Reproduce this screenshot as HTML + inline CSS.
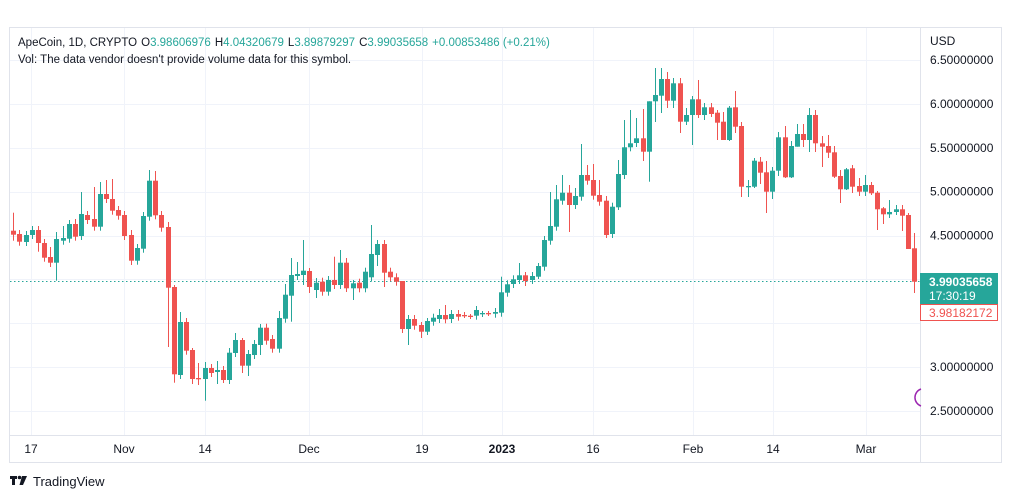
<!DOCTYPE html>
<html><head><meta charset="utf-8"><style>
html,body{margin:0;padding:0;background:#fff;width:1012px;height:498px;overflow:hidden}
svg{display:block;font-family:"Liberation Sans","DejaVu Sans",sans-serif}
</style></head><body>
<svg id="s" width="1012" height="498" xmlns="http://www.w3.org/2000/svg">
<rect x="0" y="0" width="1012" height="498" fill="#fff"/>
<g id="grid" stroke="#f0f3fa" stroke-width="1"></g>
<line x1="10" y1="281.5" x2="920" y2="281.5" stroke="#26a69a" stroke-width="1" stroke-dasharray="1.5,2.5"/>
<g id="candles"></g>
<rect x="9.5" y="27.5" width="992" height="435" fill="none" stroke="#e0e3eb"/>
<line x1="920.5" y1="28" x2="920.5" y2="462" stroke="#e0e3eb"/>
<line x1="10" y1="435.5" x2="1001" y2="435.5" stroke="#e0e3eb"/>
<g font-size="12" fill="#131722" id="axis">
<text x="930" y="45">USD</text>
</g>
<g font-size="12" fill="#131722" id="dates"></g>
<rect x="920" y="273" width="78" height="31" fill="#26a69a"/>
<text x="929" y="286" font-size="12" font-weight="bold" fill="#fff">3.99035658</text>
<text x="929" y="300" font-size="12" fill="#fff">17:30:19</text>
<rect x="920.5" y="304.5" width="77" height="16" fill="#fff" stroke="#ef5350"/>
<text x="929" y="317" font-size="12" fill="#ef5350">3.98182172</text>
<path d="M921 389 A9 9 0 0 0 921 406" fill="none" stroke="#9c27b0" stroke-width="1.5"/>
<text font-size="11.5" x="18" y="46" fill="#131722">ApeCoin, 1D, CRYPTO<tspan dx="4">O</tspan><tspan fill="#26a69a">3.98606976</tspan><tspan dx="4">H</tspan><tspan fill="#26a69a">4.04320679</tspan><tspan dx="4">L</tspan><tspan fill="#26a69a">3.89879297</tspan><tspan dx="4">C</tspan><tspan fill="#26a69a">3.99035658</tspan><tspan dx="4" fill="#26a69a">+0.00853486 (+0.21%)</tspan></text>
<text font-size="11.5" x="18" y="63" fill="#131722">Vol: The data vendor doesn't provide volume data for this symbol.</text>
<g fill="#131722"><rect x="10" y="476" width="7" height="3"/><rect x="12" y="476" width="3" height="9"/><circle cx="19.5" cy="477.5" r="1.8"/><path d="M22 476 L27 476 L23 485 L19.5 485 Z"/></g>
<text x="33" y="486" font-size="13" fill="#131722">TradingView</text>
</svg>
<script>
var NS="http://www.w3.org/2000/svg";
function el(t,a,p){var e=document.createElementNS(NS,t);for(var k in a)e.setAttribute(k,a[k]);p.appendChild(e);return e;}
var grid=document.getElementById('grid'),axis=document.getElementById('axis'),dates=document.getElementById('dates');
var prices=["6.50000000","6.00000000","5.50000000","5.00000000","4.50000000","4.00000000","3.50000000","3.00000000","2.50000000"];
for(var i=0;i<9;i++){var y=60+i*43.875;el('line',{x1:10,x2:920,y1:Math.round(y)+0.5,y2:Math.round(y)+0.5},grid);
 if(i!=5&&i!=6){var t=el('text',{x:930,y:y+4},axis);t.textContent=prices[i];}}
var dl=[[31,"17"],[124,"Nov"],[205,"14"],[309,"Dec"],[422,"19"],[502,"2023"],[593,"16"],[693,"Feb"],[773,"14"],[866,"Mar"]];
dl.forEach(function(d){el('line',{x1:d[0]+0.5,x2:d[0]+0.5,y1:28,y2:435},grid);
 var t=el('text',{x:d[0],y:453,'text-anchor':'middle'},dates);t.textContent=d[1];if(d[1]=="2023")t.setAttribute('font-weight','bold');});
var C=[[230.7,234.7,212.7,240.7],[234,241.7],[242,235],[235,230],[230,243,226,251.7],[243,257.7],[257,262.7,247,267],[262.7,239,232,280.7],[240.7,238,226],[238.7,224],
[224,236.7,219],[236,214,192],[215,220],[219,226.7,187],[226.7,194,182],[194,199,180],[199,210.7,179],[210,215.7],[215,236],[235,260.7,230,265],
[260.7,248],[248.7,216],[216.7,180.7,170],[180.7,215.3,171],[215,227.7],[227,287.7,222,347],[287,374.3,285,382.7],[375,322,312],[322,350.7],[350,379,348,384],
[378,379,363,385],[379,368,362,400.7],[368,373],[372,370,361,384],[370,380,366,383],[380,352.7,348],[353,340,333],[340,365.7,338,373],[365.7,354,350,376],[355,344],
[345,327.7,324,355],[327.7,340.7],[339,348.7],[348.7,318,311],[318.7,294.7,284],[295.7,275,258,321.7],[276,274,262],[275,270.7,240,285],[271,287,268,293],[290,282.7,278,298],
[281.7,291.7],[291.7,280],[280,285,256.7],[285,262.7,250],[262.7,288.3,258,292],[288.3,283.3,280,300],[282.7,288.3],[288.3,271.7],[277.3,254,225],[255,244,240,266],
[244,272.7,240,287],[271.7,277.3],[277.3,281.7],[281,329,281,333],[329,319,315,345],[319,325.7],[325,331.7,322,338],[331.7,321,318,335],[321.7,317.7],[319,315,309],
[315,319.3,305],[319,314],[314,316.7],[315,315.5,312,318],[315.7,316,314,319],[315.7,310],[313.3,313,311,317],[313,314,311,316],[313.7,312],[312.7,292.3,276.7],
[292.7,284.3],[284,279.3],[280,275.3,263],[275.3,281,272,286],[280,276],[276.7,266,263,279],[266.7,240],[240.7,226,192],[226.7,199.3,185],[200.7,192.7,175],
[192.7,205,185,232],[205,196,188],[196.7,175,144],[175,180.7,165],[180,195.7,164],[195,201.7,180],[200.7,235,196,238],[234,206.7],[207.3,174,160,210],[175,147.3,120],
[147.3,143.3,110],[143,138.3,118],[138.3,151.7,109,161],[151.7,101.3,103,181.7],[101.3,95,68,122],[95.7,79,68,113],[79,100.7,72,108],[100.7,83.3,78,108],[83.3,121.7,78,133],[121.7,115,108,125],
[115,99.3,96,145],[99.3,115,80,118],[115,107.3,103,120],[107.3,114,103,117],[112.7,122.7,110,140],[121.7,140,112,140],[140,107.7,106,141],[107.3,126.7,91,133],[126,186.7,122,197],[186.7,186,180,197],
[186.7,160.7,158,188],[161.7,172.7,157,184],[172.3,191.7,161,213],[191.7,170.7,167,199],[170.7,137.3,132,176],[137.3,177.3,126,178],[177.3,146,141,178],[146.7,134,124,146],[134,140,124,147],[140,115,108,152],
[115,143.3,110,152],[143.3,146.7,136,167],[146,152.7,135,158],[152.3,176.7,146,178],[176,189.3,170,203],[189.3,169.3,168,190],[168.3,186.7,165,193],[186,191.7,178,196],[191.7,185,175,196],[185,193.3,182,195],
[192.7,209.3,191,230],[208.3,214.3,207,224],[214.3,212,200,218],[212,209.3,205,215],[209.3,215.7,205,231],[215,249,213,249],[248.3,281.7,233,293]];
var g=document.getElementById('candles');
C.forEach(function(c,i){var x=13.3+i*6.17;var o=c[0],cl=c[1];var up=cl<o;var col=up?'#26a69a':'#ef5350';
 var top=Math.min(o,cl),bot=Math.max(o,cl);var h=c[2]!==undefined?Math.min(c[2],top):top-4;var l=c[3]!==undefined?Math.max(c[3],bot):bot+4;
 el('rect',{x:(Math.round(x)).toFixed(0),y:h,width:1,height:l-h,fill:col},g);
 var bh=Math.max(bot-top,1.3);el('rect',{x:Math.round(x)-2,y:top,width:5,height:bh,fill:col},g);});
</script>
</body></html>
